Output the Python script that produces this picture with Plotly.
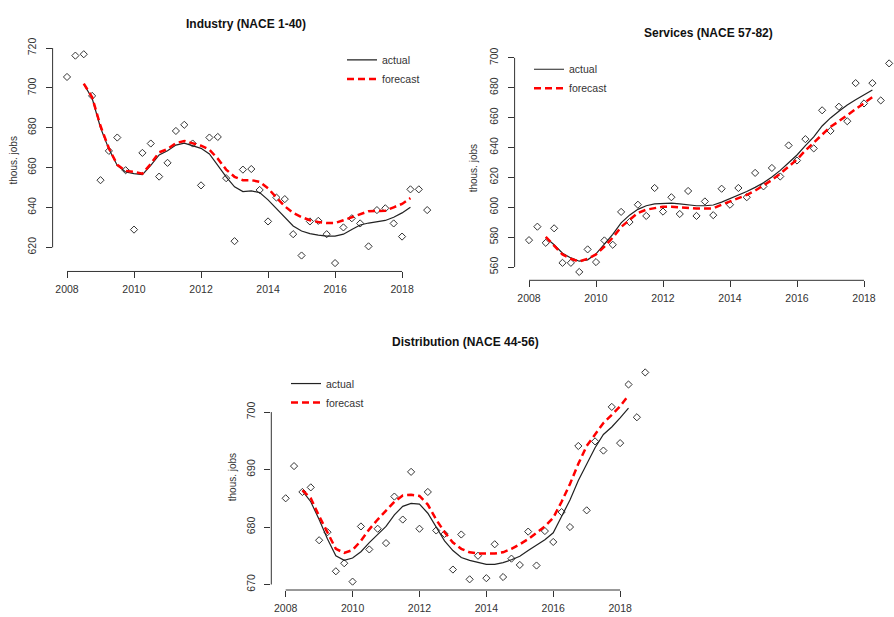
import plotly.graph_objects as go

# ---------------- data ----------------
quarters_pts = [2008 + 0.25 * i for i in range(44)]          # 2008.00 .. 2018.75
quarters_line = [2008.5 + 0.25 * i for i in range(40)]       # 2008.50 .. 2018.25
x_ticks = [2008, 2010, 2012, 2014, 2016, 2018]

industry_obs = [705.5, 716.2, 716.9, 696.0, 653.7, 668.4, 675.1, 658.7, 628.9, 667.4,
                672.1, 655.5, 662.4, 678.4, 681.5, 672.1, 651.1, 675.1, 675.4, 654.7,
                623.1, 659.0, 659.3, 648.8, 633.0, 645.0, 644.2, 626.6, 615.9, 633.0,
                633.3, 626.6, 612.1, 630.0, 634.6, 632.0, 620.5, 638.7, 639.6, 632.0,
                625.4, 649.1, 649.1, 638.7]
industry_actual = [701.9, 694.8, 680.0, 669.3, 661.1, 657.8, 657.0, 656.5, 661.1, 666.4,
                   668.5, 671.3, 672.3, 671.0, 669.7, 666.9, 661.1, 655.4, 650.4, 648.0,
                   648.3, 647.5, 643.8, 639.4, 634.8, 630.7, 628.2, 626.9, 626.1, 625.6,
                   625.6, 626.6, 629.0, 631.2, 632.2, 632.8, 633.5, 635.1, 637.3, 640.1]
industry_forecast = [702.2, 695.3, 680.9, 669.7, 661.4, 658.4, 657.8, 657.0, 661.9, 667.7,
                     669.3, 672.3, 673.4, 672.1, 671.0, 669.0, 664.5, 659.0, 655.4, 653.7,
                     653.7, 652.9, 649.6, 645.0, 640.6, 637.3, 635.2, 633.6, 632.7, 632.2,
                     632.2, 633.6, 635.2, 636.8, 638.1, 638.2, 638.4, 640.1, 641.8, 644.7]
industry_yticks = [620, 640, 660, 680, 700, 720]

services_obs = [578.0, 587.0, 576.2, 585.9, 562.8, 562.8, 556.7, 571.8, 563.3, 577.8,
                574.9, 596.9, 590.1, 601.7, 594.2, 612.9, 597.1, 606.7, 595.5, 610.9,
                594.2, 603.9, 594.7, 612.4, 601.7, 612.9, 606.7, 623.0, 614.0, 626.3,
                620.6, 641.4, 631.3, 645.6, 639.4, 664.9, 651.1, 667.3, 657.6, 683.1,
                669.5, 683.1, 671.5, 696.3]
services_actual = [579.7, 574.9, 569.2, 566.1, 563.9, 564.8, 568.8, 575.4, 581.9, 589.6,
                   594.7, 598.6, 601.0, 602.3, 602.8, 602.8, 602.3, 601.5, 601.0, 601.0,
                   601.5, 603.4, 605.6, 607.8, 610.5, 613.3, 616.4, 620.3, 624.7, 629.8,
                   635.0, 641.2, 647.1, 654.4, 659.8, 664.2, 668.4, 671.9, 675.2, 678.5]
services_forecast = [580.2, 574.3, 568.4, 565.5, 563.7, 565.5, 568.4, 573.6, 579.7, 586.8,
                     591.8, 596.2, 598.4, 599.5, 600.4, 600.4, 599.9, 599.5, 599.1, 599.1,
                     599.3, 601.7, 603.9, 606.1, 608.3, 611.1, 614.4, 618.2, 622.5, 627.4,
                     632.0, 638.0, 643.4, 648.9, 653.9, 657.6, 661.6, 665.3, 669.3, 673.7]
services_yticks = [560, 580, 600, 620, 640, 660, 680, 700]

distribution_obs = [685.0, 690.6, 686.1, 686.9, 677.7, 679.1, 672.3, 673.7, 670.5, 680.1,
                    676.1, 679.7, 677.2, 685.3, 681.3, 689.6, 679.7, 686.1, 679.4, 678.8,
                    672.6, 678.7, 670.9, 675.0, 671.1, 677.0, 671.3, 674.5, 673.4, 679.2,
                    673.3, 679.3, 677.4, 682.6, 680.0, 694.1, 682.9, 694.9, 693.3, 700.9,
                    694.6, 704.8, 699.1, 706.9]
distribution_actual = [686.3, 684.4, 681.3, 677.9, 675.0, 674.2, 674.6, 675.7, 677.3, 678.7,
                       680.1, 682.1, 683.6, 684.1, 684.0, 682.4, 679.9, 677.6, 675.9, 674.7,
                       674.2, 673.8, 673.5, 673.5, 673.8, 674.3, 674.9, 675.9, 676.8, 677.8,
                       679.0, 681.9, 684.7, 688.1, 691.0, 693.8, 696.1, 697.4, 699.0, 700.7]
distribution_forecast = [686.4, 685.0, 681.9, 679.0, 676.2, 675.5, 676.0, 677.6, 679.6, 681.3,
                         682.9, 684.4, 685.5, 685.6, 685.4, 683.9, 681.3, 679.1, 677.3, 676.2,
                         675.6, 675.4, 675.4, 675.4, 675.6, 676.2, 677.0, 677.9, 679.0, 680.1,
                         681.6, 684.4, 687.5, 691.0, 694.1, 696.1, 698.1, 699.5, 701.0, 702.9]
distribution_yticks = [670, 680, 690, 700]

titles = ["Industry (NACE 1-40)", "Services (NACE 57-82)", "Distribution (NACE 44-56)"]
y_label = "thous. jobs"

# ---------------- figure ----------------
W, H = 894, 617
FONT = "Liberation Sans, Arial, sans-serif"
AX = "#333333"

def fx(px):
    return px / W

def fy(py):
    return 1 - py / H

panels = [
    dict(obs=industry_obs, act=industry_actual, fc=industry_forecast, yt=industry_yticks,
         xdom=[fx(52.6), fx(441.6)], ydom=[fy(267.8), fy(38.5)],
         xr=[2007.57, 2019.18], yr=[607.9, 721.1],
         title_xy=(246, 16), ylab_xy=(13, 155), leg_xy=(342, 38)),
    dict(obs=services_obs, act=services_actual, fc=services_forecast, yt=services_yticks,
         xdom=[fx(514.6), 1.0], ydom=[fy(276.8), fy(47.8)],
         xr=[2007.57, 2007.57 + (W - 514.6) / 33.5], yr=[551.1, 701.9],
         title_xy=(708, 25), ylab_xy=(473, 163), leg_xy=(529, 47.5)),
    dict(obs=distribution_obs, act=distribution_actual, fc=distribution_forecast, yt=distribution_yticks,
         xdom=[fx(271.3), fx(659.6)], ydom=[fy(591.6), fy(361.9)],
         xr=[2007.57, 2019.18], yr=[669.04, 708.36],
         title_xy=(465, 340), ylab_xy=(232, 477), leg_xy=(286, 367)),
]

fig = go.Figure()
shapes = []
annotations = []
layout_axes = {}

for i, p in enumerate(panels):
    n = i + 1
    xa = "x" if n == 1 else f"x{n}"
    ya = "y" if n == 1 else f"y{n}"
    leg = "legend" if n == 1 else f"legend{n}"

    fig.add_trace(go.Scatter(x=quarters_pts, y=p["obs"], mode="markers", xaxis=xa, yaxis=ya,
                             marker=dict(symbol="diamond-open", size=5.5, color=AX,
                                         line=dict(width=1, color=AX)),
                             showlegend=False, cliponaxis=False))
    fig.add_trace(go.Scatter(x=quarters_line, y=p["act"], mode="lines", name="actual",
                             xaxis=xa, yaxis=ya, legend=leg,
                             line=dict(color="#222222", width=1.2)))
    fig.add_trace(go.Scatter(x=quarters_line, y=p["fc"], mode="lines", name="forecast",
                             xaxis=xa, yaxis=ya, legend=leg,
                             line=dict(color="#ff0000", width=2.5, dash="7px,4px")))

    layout_axes["xaxis" if n == 1 else f"xaxis{n}"] = dict(
        domain=p["xdom"], range=p["xr"], anchor=ya, showgrid=False, zeroline=False,
        showline=False, tickmode="array", tickvals=x_ticks, ticks="outside", ticklen=6,
        tickwidth=1, tickcolor=AX, tickfont=dict(family=FONT, size=10.5, color=AX),
        ticklabelstandoff=2)
    layout_axes["yaxis" if n == 1 else f"yaxis{n}"] = dict(
        domain=p["ydom"], range=p["yr"], anchor=xa, showgrid=False, zeroline=False,
        showline=False, tickmode="array", tickvals=p["yt"], ticks="outside", ticklen=6,
        tickwidth=1, tickcolor=AX, tickangle=-90,
        tickfont=dict(family=FONT, size=10.5, color=AX), ticklabelstandoff=5)

    # R-style axis lines spanning first to last tick
    shapes.append(dict(type="line", xref=xa, yref=f"{ya} domain",
                       x0=x_ticks[0], x1=x_ticks[-1], y0=0, y1=0,
                       line=dict(color=AX, width=1)))
    shapes.append(dict(type="line", xref=f"{xa} domain", yref=ya,
                       x0=0, x1=0, y0=p["yt"][0], y1=p["yt"][-1],
                       line=dict(color=AX, width=1)))

    tx, ty = p["title_xy"]
    annotations.append(dict(text=f"<b>{titles[i]}</b>", xref="paper", yref="paper",
                            x=fx(tx), y=fy(ty), showarrow=False, xanchor="center", yanchor="middle",
                            font=dict(family=FONT, size=12, color="#111111")))
    lx, ly = p["ylab_xy"]
    annotations.append(dict(text=y_label, xref="paper", yref="paper", x=fx(lx), y=fy(ly),
                            showarrow=False, textangle=-90, xanchor="center", yanchor="middle",
                            font=dict(family=FONT, size=10, color=AX)))
    gx, gy = p["leg_xy"]
    layout_axes[leg] = dict(x=fx(gx), y=fy(gy), xanchor="left", yanchor="top",
                            bgcolor="rgba(0,0,0,0)", borderwidth=0,
                            font=dict(family=FONT, size=10.5, color=AX))

fig.update_layout(width=W, height=H, margin=dict(l=0, r=0, t=0, b=0),
                  paper_bgcolor="white", plot_bgcolor="white",
                  shapes=shapes, annotations=annotations, **layout_axes)

fig.write_html("out.html", config={"responsive": False, "displayModeBar": False},
               post_script="document.documentElement.style.margin='0';"
                           "document.body.style.margin='0';"
                           "document.body.style.overflow='hidden';")
